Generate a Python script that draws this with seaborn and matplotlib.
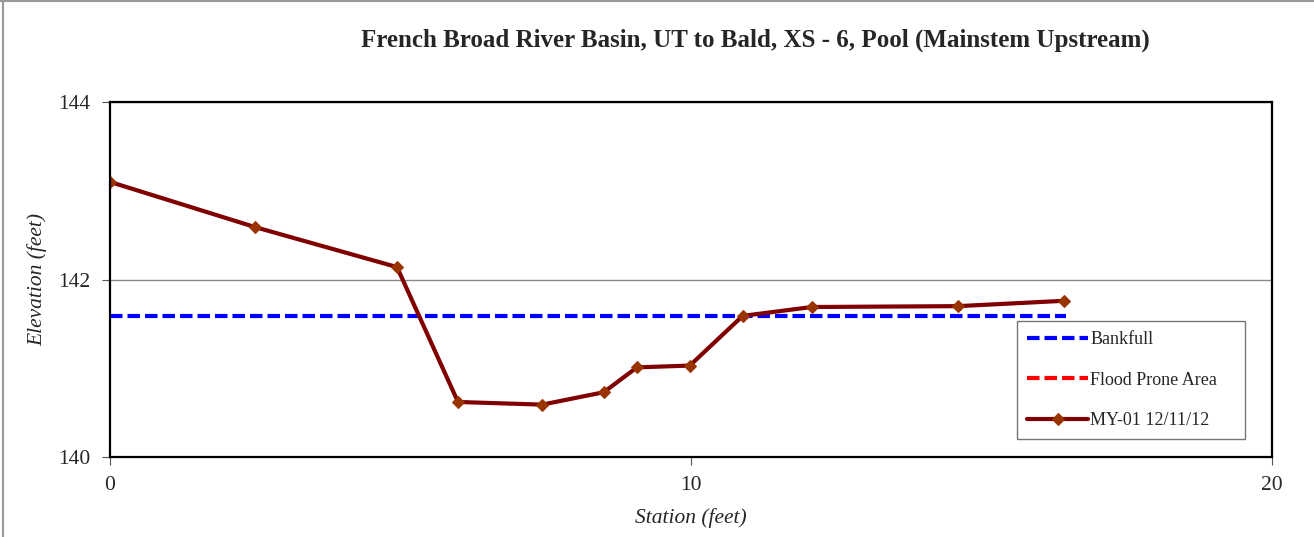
import matplotlib
matplotlib.use("Agg")
import matplotlib.pyplot as plt
import seaborn as sns
import pandas as pd
from matplotlib.ticker import MultipleLocator
from matplotlib.lines import Line2D

# surveyed cross-section (MY-01 12/11/12)
station = [0.0, 2.50, 4.94, 5.99, 7.44, 8.50, 9.07, 9.98, 10.89, 12.08, 14.60, 16.42]
elevation = [143.10, 142.59, 142.14, 140.62, 140.59, 140.73, 141.01, 141.03,
             141.59, 141.69, 141.70, 141.76]

# bankfull line
bankfull_station = [0.0, 16.45]
bankfull_elev = [141.59, 141.59]

# flood prone area (no values shown in this chart)
flood_station = []
flood_elev = []

survey = pd.DataFrame({"Station": station, "Elevation": elevation})
bkf = pd.DataFrame({"Station": bankfull_station, "Elevation": bankfull_elev})

sns.set_style("white")
plt.rcParams["font.family"] = ["Liberation Serif", "DejaVu Serif"]

fig = plt.figure(figsize=(13.14, 5.37), dpi=100)
ax = fig.add_axes([0.0837, 0.149, 0.8843, 0.661])

sns.lineplot(data=bkf, x="Station", y="Elevation", ax=ax, color="#0000FF",
             lw=3, label="Bankfull", dashes=False)
ax.lines[-1].set_linestyle((0, (3, 1.2)))
ax.plot(flood_station, flood_elev, color="#FF0000", lw=3,
        linestyle=(0, (3, 1.2)), label="Flood Prone Area")
sns.lineplot(data=survey, x="Station", y="Elevation", ax=ax, sort=False,
             color="#800000", lw=3, marker="D", markersize=6,
             markerfacecolor="#993300", markeredgecolor="#993300",
             label="MY-01 12/11/12")

ax.set_xlim(0, 20)
ax.set_ylim(140, 144)
ax.xaxis.set_major_locator(MultipleLocator(10))
ax.xaxis.set_minor_locator(MultipleLocator(5))
ax.yaxis.set_major_locator(MultipleLocator(2))
ax.yaxis.set_minor_locator(MultipleLocator(1))
ax.tick_params(axis="both", which="major", direction="out", length=6,
               width=0.8, labelsize=15.5, pad=8, color="#555555")
ax.tick_params(axis="x", which="minor", direction="in", length=5, width=0.6,
               color="#555555")
ax.tick_params(axis="y", which="minor", direction="out", length=4, width=0.6,
               color="#555555")
ax.tick_params(axis="x", which="major", bottom=True)
ax.tick_params(axis="y", which="major", left=True)
ax.yaxis.grid(True, which="major", color="#888888", lw=1)
ax.set_axisbelow(True)
for s in ax.spines.values():
    s.set_color("black")
    s.set_linewidth(1.6)

ax.set_xlabel("Station (feet)", fontsize=15.5, style="italic", labelpad=9)
ax.set_ylabel("Elevation (feet)", fontsize=15.5, style="italic", labelpad=8)
fig.text(0.5746, 0.925, "French Broad River Basin, UT to Bald, XS - 6, Pool (Mainstem Upstream)",
         ha="center", va="center", fontsize=18, fontweight="bold")

leg = ax.legend(loc="center left", bbox_to_anchor=(0.774, 0.184, 0.1735, 0.216),
                bbox_transform=fig.transFigure, mode="expand", frameon=True,
                fancybox=False, fontsize=13, handlelength=3.4,
                handletextpad=0.1, labelspacing=1.3, borderpad=0.55,
                borderaxespad=0)
leg.get_frame().set_edgecolor("#555555")
leg.get_frame().set_linewidth(1)

# chart-area border (top and left edges only, as in the source)
fig.add_artist(Line2D([0.0025, 0.0025], [0, 1], transform=fig.transFigure,
                      color="#999999", lw=1.5))
fig.add_artist(Line2D([0, 1], [0.998, 0.998], transform=fig.transFigure,
                      color="#999999", lw=1.5))

fig.savefig("out.png", dpi=100)
